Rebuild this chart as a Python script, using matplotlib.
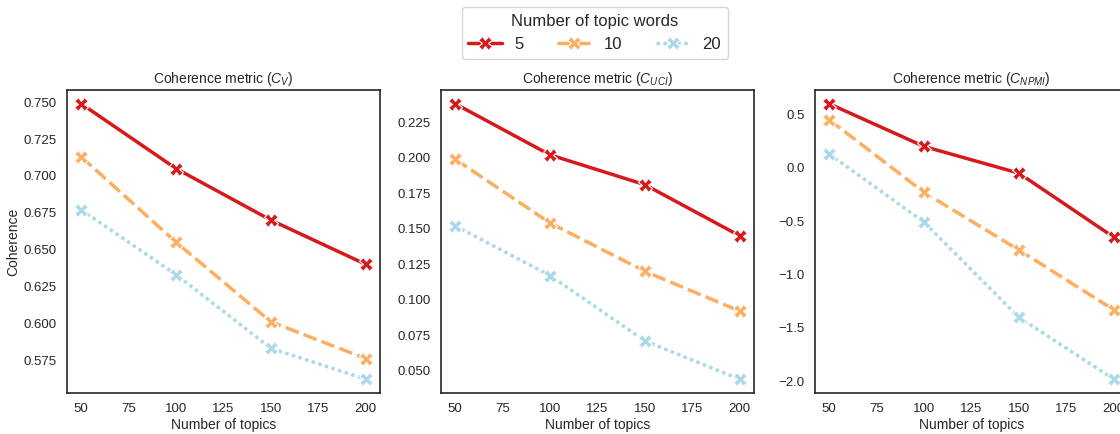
import matplotlib
matplotlib.use("Agg")
import matplotlib.pyplot as plt
import seaborn as sns

sns.set_style("white")
plt.rcParams["font.family"] = ["Liberation Sans", "DejaVu Sans"]
plt.rcParams["mathtext.fontset"] = "custom"
plt.rcParams["mathtext.rm"] = "Liberation Sans"
plt.rcParams["mathtext.it"] = "Liberation Sans:italic"

topics = [50, 100, 150, 200]
word_counts = ["5", "10", "20"]

cv_scores = {
    "5": [0.749, 0.705, 0.670, 0.640],
    "10": [0.713, 0.655, 0.601, 0.576],
    "20": [0.677, 0.633, 0.583, 0.562],
}
cuci_scores = {
    "5": [0.238, 0.202, 0.181, 0.145],
    "10": [0.199, 0.154, 0.120, 0.092],
    "20": [0.152, 0.117, 0.071, 0.044],
}
cnpmi_scores = {
    "5": [0.60, 0.20, -0.05, -0.65],
    "10": [0.45, -0.23, -0.77, -1.33],
    "20": [0.13, -0.51, -1.40, -1.98],
}

titles = [r"Coherence metric ($C_V$)", r"Coherence metric ($C_{UCI}$)",
          r"Coherence metric ($C_{NPMI}$)"]
colors = ["#d7191c", "#fdae61", "#abd9e9"]
dashes = [None, (4, 1.5), (1, 1)]

fig = plt.figure(figsize=(11.2, 4.34), dpi=100)
W, H = 1120, 434
lefts = [67, 441, 815]
axes = [fig.add_axes([l / W, 1 - 393 / H, 313 / W, 303 / H]) for l in lefts]

handles = []
for ax, scores, title in zip(axes, [cv_scores, cuci_scores, cnpmi_scores], titles):
    for wc, c, d in zip(word_counts, colors, dashes):
        line, = ax.plot(topics, scores[wc], color=c, lw=2.5, marker="X",
                        ms=10, mec="white", mew=0.8, label=wc)
        if d is not None:
            line.set_dashes(d)
        if ax is axes[0]:
            handles.append(line)
    ax.set_title(title, fontsize=10, color="#262626", pad=5)
    ax.set_xlabel("Number of topics", fontsize=10, color="#262626", labelpad=2)
    ax.set_xticks([50, 75, 100, 125, 150, 175, 200])
    ax.tick_params(labelsize=9.5, colors="#262626", pad=4)
    for s in ax.spines.values():
        s.set_color("#262626")
        s.set_linewidth(1.2)

axes[0].set_ylabel("Coherence", fontsize=10, color="#262626", labelpad=2)

fig.legend(handles=handles, labels=word_counts, title="Number of topic words",
           loc="upper center", bbox_to_anchor=(0.531, 1.003), ncol=3,
           fontsize=12, title_fontsize=12, frameon=True,
           borderpad=0.4, labelspacing=0.5)

fig.savefig("out.png", dpi=100)
